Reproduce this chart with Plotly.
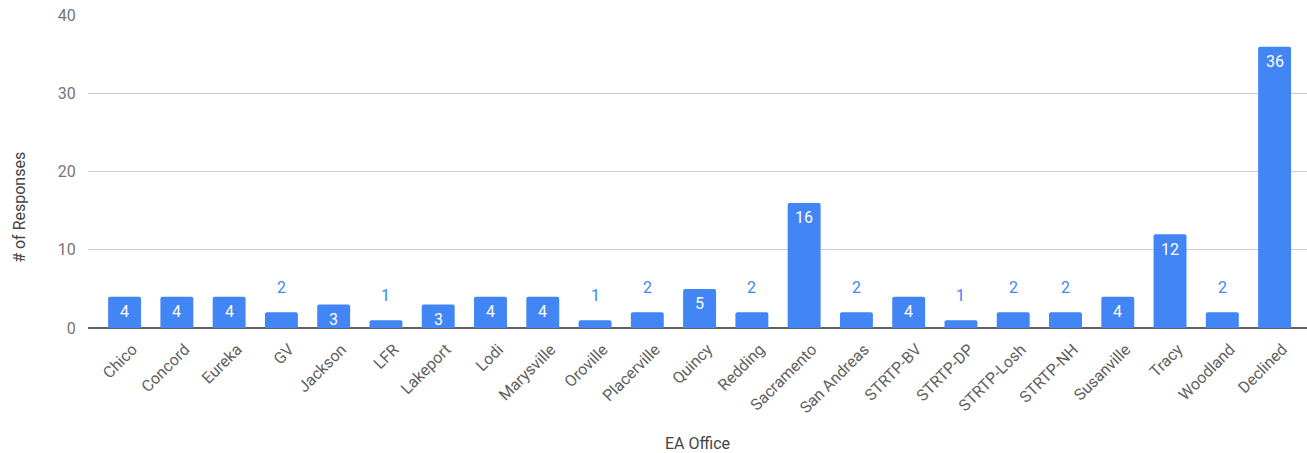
import plotly.graph_objects as go

categories = ["Chico", "Concord", "Eureka", "GV", "Jackson", "LFR", "Lakeport", "Lodi",
              "Marysville", "Oroville", "Placerville", "Quincy", "Redding", "Sacramento",
              "San Andreas", "STRTP-BV", "STRTP-DP", "STRTP-Losh", "STRTP-NH", "Susanville",
              "Tracy", "Woodland", "Declined"]
responses = [4, 4, 4, 2, 3, 1, 3, 4, 4, 1, 2, 5, 2, 16, 2, 4, 1, 2, 2, 4, 12, 2, 36]
y_ticks = [0, 10, 20, 30, 40]

BLUE = "#4285F4"
FONT = "Roboto"

fig = go.Figure()
fig.add_trace(go.Bar(
    x=list(range(len(categories))), y=responses,
    marker=dict(color=BLUE, cornerradius=2, line=dict(width=0)),
    width=0.63, hoverinfo="x+y",
))

annotations = []
for i, v in enumerate(responses):
    inside = v >= 3
    annotations.append(dict(
        x=i, y=v, xref="x", yref="y", text=str(v), showarrow=False,
        yanchor="middle", yshift=-15 if inside else 25,
        font=dict(family=FONT, size=16, color="#ffffff" if inside else BLUE),
    ))
annotations.append(dict(
    text="# of Responses", xref="paper", yref="paper", x=-0.0558, y=0.387,
    textangle=-90, showarrow=False, xanchor="center", yanchor="middle",
    font=dict(family=FONT, size=16, color="#444"),
))

fig.update_layout(
    width=1307, height=453,
    margin=dict(l=88, r=0, t=15, b=125, autoexpand=False),
    paper_bgcolor="white", plot_bgcolor="white",
    font=dict(family=FONT, size=16, color="#444"),
    showlegend=False,
    annotations=annotations,
    xaxis=dict(
        tickmode="array", tickvals=list(range(len(categories))), ticktext=categories,
        range=[-0.7, 22.62], tickangle=-45, showgrid=False, zeroline=False,
        tickfont=dict(family=FONT, size=16, color="#616161"),
        ticks="", ticklabelstandoff=8, ticklabelshift=8, automargin=False,
        title=dict(text="EA Office", font=dict(family=FONT, size=16, color="#444"), standoff=21),
    ),
    yaxis=dict(
        range=[0, 40.05], tickvals=y_ticks, showgrid=True, gridcolor="#cccccc", gridwidth=1,
        zeroline=True, zerolinecolor="#616161", zerolinewidth=2,
        tickfont=dict(family=FONT, size=16, color="#757575"),
        ticks="outside", ticklen=8, tickcolor="white", ticklabeloverflow="allow",
        automargin=False,
    ),
)

fig.write_html("out.html", config={"displayModeBar": False},
               post_script="document.body.style.margin='0';")
